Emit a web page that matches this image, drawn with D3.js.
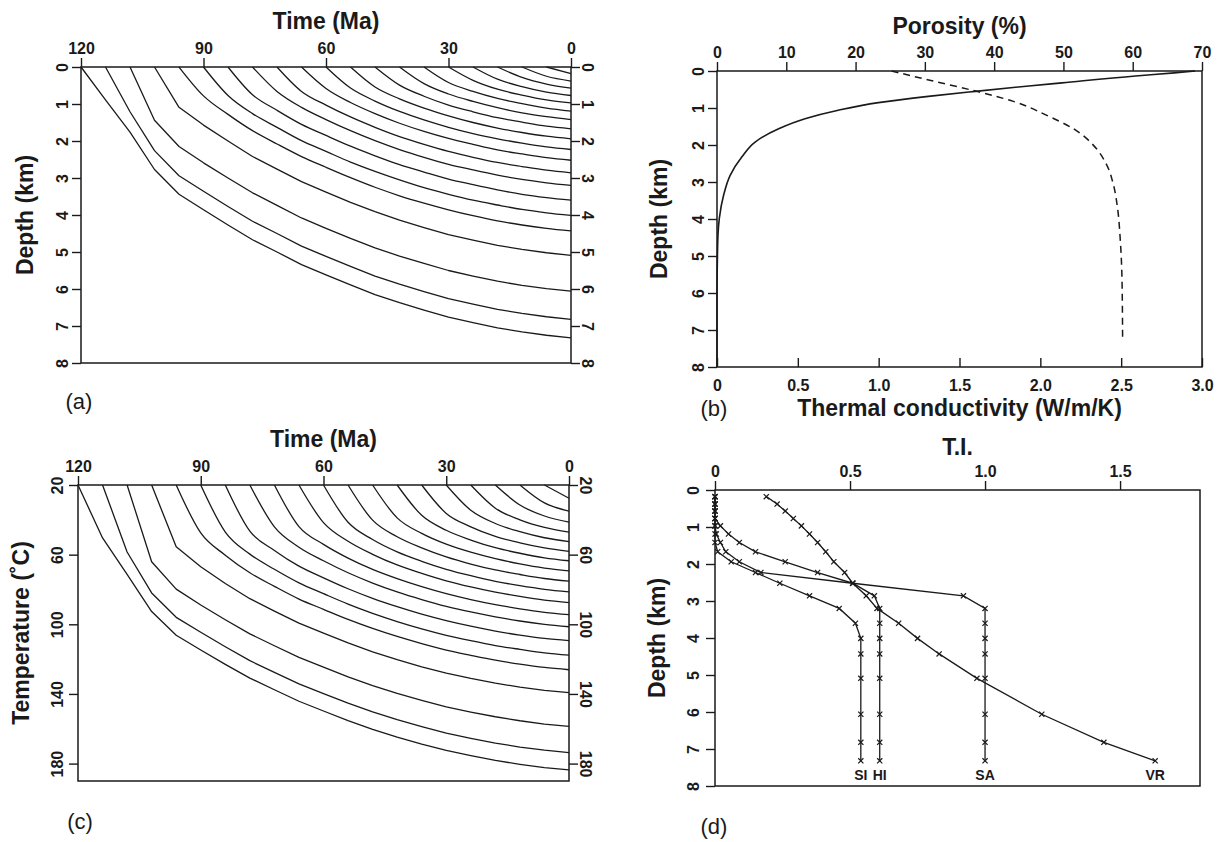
<!DOCTYPE html>
<html><head><meta charset="utf-8">
<script src="https://cdn.jsdelivr.net/npm/d3@7"></script>
<style>
body{margin:0;background:#fff;}
svg text{font-family:"Liberation Sans",Arial,Helvetica,sans-serif;fill:#1a1a1a;}
</style></head><body>
<svg id="fig" width="1218" height="842"></svg>
<script>
// ---------------- DATA ----------------
// model time steps (Ma), oldest first
const modelTimes = [120,114,108,102,96,90,84,78,72,66,60,54,48,42,36,30,24,18,12,6,0];
// horizon deposition ages (Ma)
const horizonAges = [6,12,18,24,30,36,42,48,54,60,66,72,78,84,90,96,102,108,114,120];
// (a) depth (km) of each horizon at each model time from its age to present
const burialDepthKm = [
  [0,0.18],
  [0,0.25,0.38],
  [0,0.28,0.46,0.57],
  [0,0.33,0.53,0.68,0.77],
  [0,0.36,0.60,0.76,0.89,0.97],
  [0,0.42,0.66,0.85,0.99,1.11,1.19],
  [0,0.45,0.73,0.93,1.10,1.24,1.34,1.42],
  [0,0.49,0.79,1.03,1.21,1.37,1.49,1.60,1.67],
  [0,0.54,0.86,1.11,1.32,1.50,1.65,1.77,1.87,1.94],
  [0,0.57,0.92,1.20,1.43,1.63,1.80,1.94,2.06,2.16,2.23],
  [0,0.58,0.96,1.26,1.52,1.74,1.93,2.09,2.24,2.35,2.45,2.52],
  [0,0.66,1.03,1.35,1.63,1.88,2.09,2.28,2.44,2.58,2.69,2.79,2.86],
  [0,0.66,1.09,1.42,1.72,1.99,2.23,2.44,2.63,2.78,2.92,3.04,3.13,3.20],
  [0,0.75,1.17,1.55,1.85,2.14,2.40,2.64,2.84,3.03,3.18,3.32,3.44,3.53,3.60],
  [0,0.77,1.26,1.63,1.99,2.28,2.57,2.82,3.05,3.26,3.44,3.60,3.73,3.85,3.94,4.01],
  [0,0.78,1.28,1.72,2.08,2.42,2.71,2.99,3.25,3.48,3.68,3.86,4.02,4.16,4.27,4.36,4.43],
  [0,1.09,1.57,2.00,2.42,2.76,3.10,3.38,3.66,3.91,4.14,4.34,4.53,4.68,4.82,4.93,5.02,5.09],
  [0,1.44,2.15,2.59,3.00,3.40,3.74,4.08,4.36,4.63,4.89,5.11,5.31,5.50,5.65,5.79,5.90,5.99,6.06],
  [0,1.21,2.26,2.94,3.36,3.77,4.17,4.50,4.84,5.12,5.39,5.65,5.87,6.07,6.26,6.41,6.55,6.66,6.75,6.82],
  [0,0.89,1.76,2.77,3.44,3.86,4.27,4.67,5.00,5.34,5.62,5.89,6.15,6.37,6.57,6.76,6.91,7.05,7.16,7.25,7.32]
];
// (c) temperature (°C) of each horizon at each model time
const burialTempC = [
  [20,27.6],
  [20,30.3,35.0],
  [20,31.5,37.8,41.3],
  [20,33.3,40.0,44.4,47.1],
  [20,34.5,42.1,46.8,50.3,52.5],
  [20,36.3,44.0,49.5,53.2,56.1,58.1],
  [20,37.4,46.0,51.6,56.0,59.2,61.8,63.5],
  [20,38.9,47.8,54.0,58.6,62.3,65.3,67.7,69.3],
  [20,40.2,49.7,56.1,61.3,65.4,68.8,71.4,73.7,75.2],
  [20,41.4,51.3,58.4,63.8,68.4,72.1,75.3,77.8,79.9,81.4],
  [20,41.6,52.3,59.8,65.9,70.7,75.0,78.5,81.5,84.0,86.1,87.5],
  [20,43.9,54.1,62.0,68.5,73.8,78.4,82.4,85.8,88.7,91.1,93.1,94.5],
  [20,44.0,55.7,63.5,70.4,76.3,81.4,85.8,89.7,92.9,95.7,98.1,100.0,101.4],
  [20,46.5,57.6,66.6,73.3,79.6,85.1,89.9,94.2,97.9,101.1,103.9,106.2,108.1,109.4],
  [20,47.0,59.7,68.4,76.2,82.4,88.4,93.7,98.4,102.6,106.3,109.4,112.2,114.4,116.4,117.7],
  [20,47.5,60.3,70.4,78.2,85.5,91.4,97.2,102.4,107.0,111.1,114.8,117.8,120.6,122.9,124.8,126.1],
  [20,55.5,67.0,76.6,85.3,92.4,99.3,105.1,110.7,115.8,120.3,124.4,128.0,131.1,133.8,136.1,138.0,139.3],
  [20,64.1,79.8,88.9,97.4,105.5,112.3,119.0,124.6,130.2,135.2,139.7,143.7,147.4,150.4,153.1,155.4,157.3,158.6],
  [20,58.5,82.0,96.0,104.6,112.9,120.9,127.6,134.2,139.8,145.3,150.3,154.8,158.8,162.5,165.5,168.2,170.5,172.3,173.7],
  [20,50.4,71.3,92.7,106.3,114.8,123.0,130.9,137.6,144.2,149.8,155.3,160.3,164.8,168.8,172.4,175.4,178.2,180.4,182.3,183.6]
];
// (b) present-day porosity and thermal conductivity profiles
const porosityDepth = [0,0.05,0.135,0.32,0.405,0.55,0.685,0.855,1.06,1.29,1.56,1.92,2.32,2.82,3.36,3.99,4.44,5.16,6.06,8.0];
const porosityPct   = [69,66,60.4,49.8,45.0,37.3,30.5,23.3,17.5,12.7,8.9,5.5,3.6,1.9,0.95,0.33,0.14,0.05,0,0];
const conductivityDepth = [0,0.25,0.55,0.82,1.2,1.56,2.01,2.55,3.09,3.72,4.53,5.61,7.32];
const conductivityWmK   = [1.08,1.316,1.606,1.833,2.04,2.205,2.329,2.412,2.453,2.478,2.494,2.505,2.509];
// (d) transformation index vs present depth of the horizons
const tiDepthKm = [0.18,0.38,0.57,0.77,0.97,1.19,1.42,1.67,1.94,2.23,2.52,2.86,3.20,3.60,4.01,4.43,5.09,6.06,6.82,7.32];
const tiVR = [0.19,0.23,0.26,0.29,0.32,0.35,0.38,0.41,0.44,0.48,0.51,0.56,0.60,0.68,0.75,0.83,0.97,1.21,1.44,1.63];
const tiSA = [0,0,0,0,0.02,0.05,0.09,0.15,0.26,0.38,0.51,0.92,1.0,1.0,1.0,1.0,1.0,1.0,1.0,1.0];
const tiHI = [0,0,0,0,0,0.005,0.02,0.04,0.09,0.17,0.51,0.59,0.61,0.61,0.61,0.61,0.61,0.61,0.61,0.61];
const tiSI = [0,0,0,0,0,0,0,0.01,0.06,0.15,0.24,0.35,0.46,0.52,0.54,0.54,0.54,0.54,0.54,0.54];
const tiSeriesNames = ["VR","SA","HI","SI"];
// tick labels
const timeTicks = [120,90,60,30,0];
const depthTicks = [0,1,2,3,4,5,6,7,8];
const tempTicks = [20,60,100,140,180];
const porosityTicks = [0,10,20,30,40,50,60,70];
const conductivityTicks = [0,0.5,1.0,1.5,2.0,2.5,3.0];
const tiTicks = [0,0.5,1.0,1.5];

// ---------------- DRAWING ----------------
const ink = '#1a1a1a';
const svg = d3.select('#fig');
svg.append('rect').attr('width',1218).attr('height',842).attr('fill','#fff');

function frame(x0,y0,x1,y1){
  svg.append('rect').attr('x',x0).attr('y',y0).attr('width',x1-x0).attr('height',y1-y0)
    .attr('fill','none').attr('stroke',ink).attr('stroke-width',1.5);
}
function styleAxis(sel){
  sel.select('.domain').remove();
  sel.selectAll('.tick line').attr('stroke',ink).attr('stroke-width',1.4);
  sel.selectAll('.tick text').attr('fill',ink).style('font-size','16px').style('font-weight','bold')
     .style('font-family','"Liberation Sans",Arial,sans-serif');
}
function label(txt,x,y,opt={}){
  const t = svg.append('text').attr('x',x).attr('y',y).text(txt)
    .attr('text-anchor',opt.anchor||'middle')
    .style('font-size',(opt.size||23)+'px').style('font-weight',opt.weight||'bold');
  if(opt.rotate) t.attr('transform',`rotate(${opt.rotate},${x},${y})`);
  return t;
}
function topAxis(scale,y0,ticks,fmt){
  const g = svg.append('g').attr('transform',`translate(0,${y0})`)
    .call(d3.axisTop(scale).tickValues(ticks).tickSize(9).tickPadding(4).tickFormat(fmt));
  styleAxis(g); return g;
}
function leftAxis(scale,x0,ticks,off,fmt){
  const g = svg.append('g').attr('transform',`translate(${x0},0)`)
    .call(d3.axisLeft(scale).tickValues(ticks).tickSize(9).tickFormat(fmt||d3.format('d')));
  styleAxis(g);
  g.selectAll('.tick text').attr('x',null).attr('dy',null).attr('text-anchor','middle')
    .attr('transform',`translate(${-off},0) rotate(-90)`);
  return g;
}
function rightAxis(scale,x1,ticks,off){
  const g = svg.append('g').attr('transform',`translate(${x1},0)`)
    .call(d3.axisRight(scale).tickValues(ticks).tickSize(9).tickFormat(d3.format('d')));
  styleAxis(g);
  g.selectAll('.tick text').attr('x',null).attr('dy',null).attr('text-anchor','middle')
    .attr('transform',`translate(${off},0) rotate(90)`);
  return g;
}

// ---- burial panels (a) and (c)
function burialPanel(p){
  const x = d3.scaleLinear().domain([120,0]).range([p.x0,p.x1]);
  const y = d3.scaleLinear().domain(p.yDomain).range([p.y0,p.y1]);
  const smooth = d3.line().x(d=>x(d[0])).y(d=>y(d[1])).curve(d3.curveMonotoneX);
  const kinked = d3.line().x(d=>x(d[0])).y(d=>y(d[1]));
  const g = svg.append('g');
  p.rows.forEach((row,i)=>{
    const age = horizonAges[i];
    const times = modelTimes.slice(modelTimes.indexOf(age));
    const gen = age >= 102 ? kinked : smooth;
    g.append('path').attr('d',gen(row.map((v,j)=>[times[j],v])))
      .attr('fill','none').attr('stroke',ink).attr('stroke-width',1.3).attr('stroke-linejoin','round');
  });
  frame(p.x0,p.y0,p.x1,p.y1);
  topAxis(x,p.y0,timeTicks,d3.format('d'));
  leftAxis(y,p.x0,p.yTicks,p.leftOff);
  rightAxis(y,p.x1,p.yTicks,p.rightOff);
  label('Time (Ma)',(p.x0+p.x1)/2,p.y0-38);
}
burialPanel({x0:81,x1:571,y0:67,y1:363,yDomain:[0,8],rows:burialDepthKm,yTicks:depthTicks,leftOff:13,rightOff:11});
label('Depth (km)',33,215,{rotate:-90});
label('(a)',79,409,{weight:'normal',size:22});

burialPanel({x0:78,x1:569,y0:485,y1:781,yDomain:[20,190],rows:burialTempC,yTicks:tempTicks,leftOff:15,rightOff:11});
label('Temperature (˚C)',29,633,{rotate:-90});
label('(c)',80,829,{weight:'normal',size:22});

// ---- panel (b)
(function(){
  const x0=717,x1=1202,y0=71,y1=367;
  const phi = d3.scaleLinear().domain([0,70]).range([x0,x1]);
  const kx = d3.scaleLinear().domain([0,3]).range([x0,x1]);
  const y = d3.scaleLinear().domain([0,8]).range([y0,y1]);
  const solid = d3.line().x(d=>phi(d[1])).y(d=>y(d[0])).curve(d3.curveMonotoneY);
  const dashed = d3.line().x(d=>kx(d[1])).y(d=>y(d[0])).curve(d3.curveMonotoneY);
  svg.append('path').attr('d',solid(porosityDepth.map((d,i)=>[d,porosityPct[i]])))
    .attr('fill','none').attr('stroke',ink).attr('stroke-width',1.6);
  svg.append('path').attr('d',dashed(conductivityDepth.map((d,i)=>[d,conductivityWmK[i]])))
    .attr('fill','none').attr('stroke',ink).attr('stroke-width',1.5).attr('stroke-dasharray','7,5');
  frame(x0,y0,x1,y1);
  topAxis(phi,y0,porosityTicks,d3.format('d'));
  leftAxis(y,x0,depthTicks,13);
  const gb = svg.append('g').attr('transform',`translate(0,${y1})`)
    .call(d3.axisBottom(kx).tickValues(conductivityTicks).tickSizeInner(-9).tickSizeOuter(0)
      .tickFormat(d=>d===0?'0':d3.format('.1f')(d)));
  styleAxis(gb);
  gb.selectAll('.tick text').attr('y',24).attr('dy',null);
  label('Porosity (%)',(x0+x1)/2,y0-37);
  label('Thermal conductivity (W/m/K)',(x0+x1)/2,416);
  label('Depth (km)',667,219,{rotate:-90});
  label('(b)',714,416,{weight:'normal',size:22});
})();

// ---- panel (d)
(function(){
  const x0=715,x1=1200,y0=490,y1=786;
  const x = d3.scaleLinear().domain([0,1.796]).range([x0,x1]);
  const y = d3.scaleLinear().domain([0,8]).range([y0,y1]);
  const line = d3.line().x(d=>x(d[0])).y(d=>y(d[1]));
  const series = {VR:tiVR,SA:tiSA,HI:tiHI,SI:tiSI};
  tiSeriesNames.forEach(name=>{
    const pts = series[name].map((v,i)=>[v,tiDepthKm[i]]);
    svg.append('path').attr('d',line(pts)).attr('fill','none').attr('stroke',ink).attr('stroke-width',1.3);
    svg.append('g').selectAll('path').data(pts).join('path')
      .attr('transform',d=>`translate(${x(d[0])},${y(d[1])})`)
      .attr('d','M-2.6,-2.6L2.6,2.6M-2.6,2.6L2.6,-2.6')
      .attr('stroke',ink).attr('stroke-width',1.2).attr('fill','none');
    const last = pts[pts.length-1];
    svg.append('text').attr('x',x(last[0])).attr('y',780).attr('text-anchor','middle')
      .style('font-size','14px').style('font-weight','bold').text(name);
  });
  frame(x0,y0,x1,y1);
  topAxis(x,y0,tiTicks,d=>d===0?'0':d3.format('.1f')(d));
  leftAxis(y,x0,depthTicks,16);
  label('T.I.',(x0+x1)/2,y0-35);
  label('Depth (km)',665,638,{rotate:-90});
  label('(d)',714,834,{weight:'normal',size:22});
})();
</script>
</body></html>
